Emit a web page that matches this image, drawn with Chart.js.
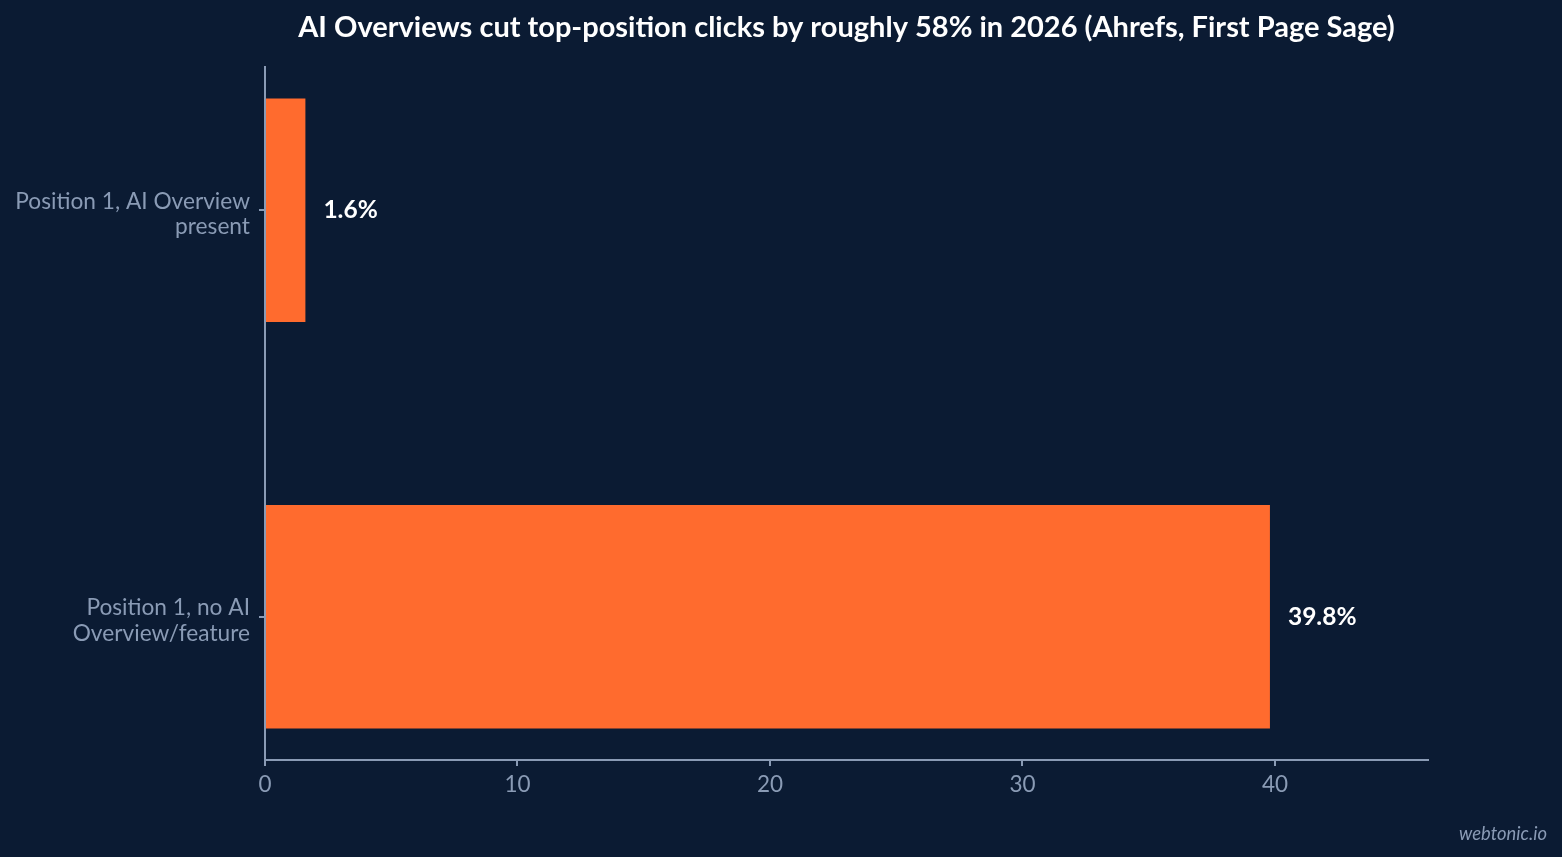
<!DOCTYPE html>
<html>
<head>
<meta charset="utf-8">
<script src="https://cdn.jsdelivr.net/npm/chart.js@4.4.1/dist/chart.umd.min.js"></script>
<style>
  html, body { margin: 0; padding: 0; background: #0b1b33; }
  #wrap { width: 1562px; height: 857px; }
</style>
</head>
<body>
<div id="wrap"><canvas id="c" width="1562" height="857"></canvas></div>
<script>
const categories = [
  ['Position 1, AI Overview', 'present'],
  ['Position 1, no AI', 'Overview/feature']
];
const clickRates = [1.6, 39.8];
const valueLabels = ['1.6%', '39.8%'];
const xTicks = [0, 10, 20, 30, 40];
const titleText = 'AI Overviews cut top-position clicks by roughly 58% in 2026 (Ahrefs, First Page Sage)';
const watermark = 'webtonic.io';

const BG = '#0b1b33';
const BAR = '#ff6b2e';
const AXIS = '#8a9bb5';
const FONT = 'Lato, "Noto Sans", sans-serif';

const points = clickRates.map((v, i) => ({ x: v, y: i }));

const bgPlugin = {
  id: 'bg',
  beforeDraw(chart) {
    const { ctx, width, height } = chart;
    ctx.save();
    ctx.fillStyle = BG;
    ctx.fillRect(0, 0, width, height);
    ctx.restore();
  }
};

const textPlugin = {
  id: 'texts',
  afterDraw(chart) {
    const { ctx, chartArea } = chart;
    ctx.save();
    ctx.fillStyle = '#ffffff';
    ctx.font = 'bold 29px ' + FONT;
    ctx.textAlign = 'center';
    ctx.textBaseline = 'middle';
    ctx.fillText(titleText, (chartArea.left + chartArea.right) / 2, 28);
    const meta = chart.getDatasetMeta(0);
    ctx.font = 'bold 24.5px ' + FONT;
    ctx.textAlign = 'left';
    meta.data.forEach((bar, i) => {
      ctx.fillText(valueLabels[i], bar.x + 18, bar.y);
    });
    ctx.fillStyle = AXIS;
    ctx.font = 'italic 18.4px ' + FONT;
    ctx.textAlign = 'right';
    ctx.textBaseline = 'alphabetic';
    ctx.fillText(watermark, 1547, 840);
    ctx.restore();
  }
};

new Chart(document.getElementById('c'), {
  type: 'bar',
  data: {
    datasets: [{
      data: points,
      backgroundColor: BAR,
      borderWidth: 0,
      barPercentage: 0.55,
      categoryPercentage: 1.0
    }]
  },
  options: {
    responsive: false,
    animation: false,
    indexAxis: 'y',
    layout: { padding: { top: 67, right: 134, bottom: 47, left: 0 } },
    plugins: {
      legend: { display: false },
      tooltip: { enabled: false },
      title: { display: false }
    },
    scales: {
      x: {
        type: 'linear',
        min: 0,
        max: 46.06,
        afterBuildTicks(scale) {
          scale.ticks = xTicks.map(v => ({ value: v }));
        },
        afterFit(scale) { scale.height = 50; },
        border: { display: true, color: AXIS, width: 2 },
        grid: { drawOnChartArea: false, drawTicks: true, tickLength: 6, color: AXIS, lineWidth: 2 },
        ticks: { color: AXIS, font: { family: FONT, size: 22.5 }, padding: 5 }
      },
      y: {
        type: 'linear',
        reverse: true,
        offset: false,
        min: -0.3525,
        max: 1.3525,
        afterBuildTicks(scale) {
          scale.ticks = categories.map((c, i) => ({ value: i }));
        },
        afterFit(scale) { scale.width = 265; },
        border: { display: true, color: AXIS, width: 2 },
        grid: { offset: false, drawOnChartArea: false, drawTicks: true, tickLength: 6, color: AXIS, lineWidth: 2 },
        ticks: {
          color: AXIS,
          font: { family: FONT, size: 22.7, lineHeight: 1.11 },
          padding: 9,
          labelOffset: 4,
          callback: (v) => categories[v] || ''
        }
      }
    }
  },
  plugins: [bgPlugin, textPlugin]
});
</script>
</body>
</html>
